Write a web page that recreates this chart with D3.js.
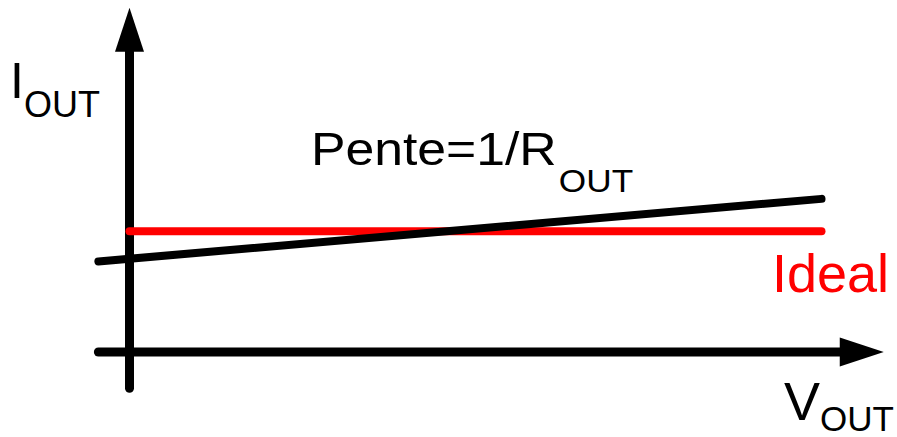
<!DOCTYPE html>
<html>
<head>
<meta charset="utf-8">
<script src="https://cdn.jsdelivr.net/npm/d3@7"></script>
<style>
  body { margin: 0; background: #fff; }
  text { font-family: "Liberation Sans", Arial, sans-serif; }
</style>
</head>
<body>
<div id="chart"></div>
<script>
// data (arbitrary units)
var vOut = [-0.45, 10];        // real source, starts left of the axis
var iReal = [3.0, 5.07];
var vIdeal = [0, 10];
var iIdeal = [4, 4];
var xAxisExtent = [-0.45, 10.9];
var yAxisExtent = [-1.2, 11.4];

var width = 897, height = 437;

var svg = d3.select("#chart").append("svg")
    .attr("width", width)
    .attr("height", height);

var x = d3.scaleLinear()
    .domain([0, 10])
    .range([129.5, 821.5]);

var y = d3.scaleLinear()
    .domain([0, 10])
    .range([352, 50]);

var line = d3.line()
    .x(function(d) { return x(d[0]); })
    .y(function(d) { return y(d[1]); });

// axes with arrowheads
var headLen = 44, headHalf = 14.5;

svg.append("line")
    .attr("x1", x(xAxisExtent[0])).attr("y1", y(0))
    .attr("x2", x(xAxisExtent[1]) - headLen + 2).attr("y2", y(0))
    .attr("stroke", "#000").attr("stroke-width", 9)
    .attr("stroke-linecap", "round");

svg.append("path")
    .attr("d", "M" + x(xAxisExtent[1]) + "," + y(0) +
        "L" + (x(xAxisExtent[1]) - headLen) + "," + (y(0) - headHalf) +
        "L" + (x(xAxisExtent[1]) - headLen) + "," + (y(0) + headHalf) + "Z")
    .attr("fill", "#000");

svg.append("line")
    .attr("x1", x(0)).attr("y1", y(yAxisExtent[0]))
    .attr("x2", x(0)).attr("y2", y(yAxisExtent[1]) + headLen - 2)
    .attr("stroke", "#000").attr("stroke-width", 9)
    .attr("stroke-linecap", "round");

svg.append("path")
    .attr("d", "M" + x(0) + "," + y(yAxisExtent[1]) +
        "L" + (x(0) - headHalf) + "," + (y(yAxisExtent[1]) + headLen) +
        "L" + (x(0) + headHalf) + "," + (y(yAxisExtent[1]) + headLen) + "Z")
    .attr("fill", "#000");

// ideal source (red) and real source (black)
svg.append("path")
    .datum(d3.zip(vIdeal, iIdeal))
    .attr("d", line)
    .attr("fill", "none")
    .attr("stroke", "#ff0000")
    .attr("stroke-width", 8)
    .attr("stroke-linecap", "round");

svg.append("path")
    .datum(d3.zip(vOut, iReal))
    .attr("d", line)
    .attr("fill", "none")
    .attr("stroke", "#000")
    .attr("stroke-width", 8)
    .attr("stroke-linecap", "round");

// labels
var iLab = svg.append("text").attr("x", 10).attr("y", 98)
    .style("font-size", "50px");
iLab.append("tspan").text("I");
iLab.append("tspan").attr("dy", 19).style("font-size", "36px").text("OUT");

var vLab = svg.append("text").attr("x", 784).attr("y", 420)
    .style("font-size", "54px");
vLab.append("tspan").text("V");
vLab.append("tspan").attr("dy", 11).style("font-size", "35px").text("OUT");

svg.append("text")
    .attr("x", 772).attr("y", 292)
    .attr("fill", "#ff0000")
    .style("font-size", "54px")
    .text("Ideal");

var pLab = svg.append("text")
    .attr("transform", "translate(311,165) scale(1.1,1)")
    .style("font-size", "47px");
pLab.append("tspan").text("Pente=1/R");
pLab.append("tspan").attr("dx", 2).attr("dy", 27).style("font-size", "32px").text("OUT");
</script>
</body>
</html>
